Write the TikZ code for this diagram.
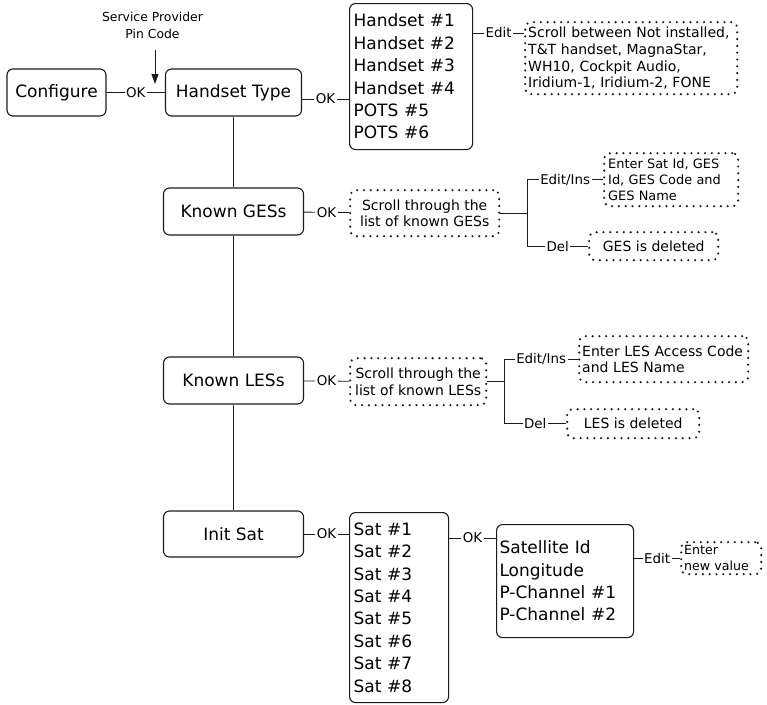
\documentclass[tikz,border=0pt]{standalone}
\usepackage{fontspec}
\setmainfont{DejaVu Sans}
\usetikzlibrary{arrows.meta,calc,positioning}
\definecolor{ink}{HTML}{1A1A1A}

\begin{document}
\begin{tikzpicture}[x=1pt,y=-1pt,
  box/.style={draw=ink,line width=1.1pt,rounded corners=6pt,inner sep=0pt,font=\fontsize{17}{22.4}\selectfont},
  dotbox/.style={draw=ink,line width=2.4pt,line cap=round,dash pattern=on 0pt off 6.8pt,rounded corners=6pt,inner sep=0pt,font=\fontsize{14}{16.7}\selectfont},
  lbl/.style={fill=white,inner xsep=1.5pt,inner ysep=0pt,font=\fontsize{13.4}{14}\selectfont},
  link/.style={draw=ink,line width=0.9pt}]
\useasboundingbox (0,0) rectangle (767,704);
% main column
\node[box,minimum width=99pt,minimum height=47pt] (config) at (56.5,92.5) {Configure};
\node[box,minimum width=136pt,minimum height=47pt] (htype) at (233.5,92.5) {Handset Type};
\node[box,minimum width=140pt,minimum height=47pt] (kges) at (233.5,211.5) {Known GESs};
\node[box,minimum width=140pt,minimum height=47pt] (kles) at (233.5,380.5) {Known LESs};
\node[box,minimum width=140pt,minimum height=46pt] (initsat) at (233.5,534) {Init Sat};
\node[align=center,font=\fontsize{12.4}{17}\selectfont] (pin) at (152.5,25.5) {Service Provider\\Pin Code};
\coordinate (pinend) at (155,84);
% handsets
\node[box,anchor=north west,inner xsep=4pt,text width=115pt,minimum height=146pt,align=left] (hlist) at (349,3)
  {Handset \#1\\Handset \#2\\Handset \#3\\Handset \#4\\POTS \#5\\POTS \#6};
\node[dotbox,anchor=north west,inner xsep=3pt,text width=206pt,minimum height=72pt,align=left] (hedit) at (524,21)
  {Scroll between Not installed,\\T\&T handset, MagnaStar,\\WH10, Cockpit Audio,\\Iridium-1, Iridium-2, FONE};
% GES
\node[dotbox,anchor=north west,minimum width=149pt,minimum height=46pt,align=center] (gscroll) at (349,189)
  {Scroll through the\\list of known GESs};
\node[dotbox,anchor=north west,inner xsep=4pt,text width=126pt,minimum height=53pt,align=left,font=\fontsize{12.9}{16}\selectfont] (gedit) at (603,152)
  {Enter Sat Id, GES\\Id, GES Code and\\GES Name};
\node[dotbox,anchor=north west,minimum width=129pt,minimum height=28pt] (gdel) at (588,231) {GES is deleted};
% LES
\node[dotbox,anchor=north west,minimum width=136pt,minimum height=47pt,align=center] (lscroll) at (349,357)
  {Scroll through the\\list of known LESs};
\node[dotbox,anchor=north west,inner xsep=3pt,text width=163pt,minimum height=46pt,align=left] (ledit) at (578,335)
  {Enter LES Access Code\\and LES Name};
\node[dotbox,anchor=north west,minimum width=132pt,minimum height=29pt] (ldel) at (566,408) {LES is deleted};
% satellites
\node[box,anchor=north west,inner xsep=4pt,text width=91pt,minimum height=190pt,align=left] (satlist) at (349,512)
  {Sat \#1\\Sat \#2\\Sat \#3\\Sat \#4\\Sat \#5\\Sat \#6\\Sat \#7\\Sat \#8};
\node[box,anchor=north west,inner xsep=3pt,text width=131pt,minimum height=113pt,align=left] (satb) at (496,524)
  {Satellite Id\\Longitude\\P-Channel \#1\\P-Channel \#2};
\node[dotbox,anchor=north west,inner xsep=3pt,text width=74pt,minimum height=32pt,align=left,font=\fontsize{12.6}{16}\selectfont] (satv) at (680,541)
  {Enter\\new value};

% connectors
\foreach \a/\b in {htype/kges,kges/kles,kles/initsat} \draw[link] (\a) -- (\b);
\draw[link] (config) -- node[lbl]{OK} (htype);
\draw[link,-{Triangle[length=10pt,width=7pt]}] ($(pin.south -| pinend)+(0,8)$) -- (pinend);
\draw[link] ([yshift=-6.5pt]htype.east) coordinate (t1) -- node[lbl]{OK} (t1 -| hlist.west);
\draw[link] ([yshift=-30pt]hlist.north east) coordinate (t2) -- node[lbl]{Edit} (t2 -| hedit.west);

\draw[link] (kges) -- node[lbl]{OK} (gscroll);
\draw[link] (gscroll.east) -- ++(27,0) coordinate (gb);
\draw[link] (gb |- gedit.west) -- node[lbl]{Edit/Ins} (gedit.west);
\draw[link] (gb |- gedit.west) -- (gb |- gdel.west) -- node[lbl]{Del} (gdel.west);

\draw[link] (kles) -- node[lbl]{OK} (lscroll);
\draw[link] (lscroll.east) -- ++(17,0) coordinate (lb);
\draw[link] (lb |- ledit.west) -- node[lbl]{Edit/Ins} (ledit.west);
\draw[link] (lb |- ledit.west) -- (lb |- ldel.west) -- node[lbl]{Del} (ldel.west);

\draw[link] (initsat.east) -- node[lbl]{OK} (initsat.east -| satlist.west);
\draw[link] ([yshift=-26pt]satlist.north east) coordinate (s1) -- node[lbl]{OK} (s1 -| satb.west);
\draw[link] (satb.east |- satv.west) -- node[lbl]{Edit} (satv.west);
\end{tikzpicture}
\end{document}
